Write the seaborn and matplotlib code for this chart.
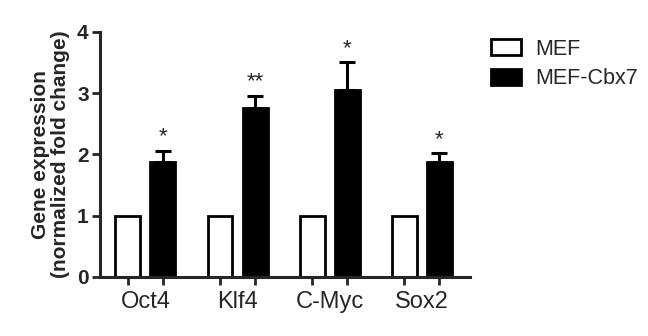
import numpy as np
import pandas as pd
import matplotlib
matplotlib.use("Agg")
import matplotlib.pyplot as plt
import seaborn as sns

genes = ["Oct4", "Klf4", "C-Myc", "Sox2"]
groups = ["MEF", "MEF-Cbx7"]
mef = [1.0, 1.0, 1.0, 1.0]
cbx7 = [1.88, 2.75, 3.05, 1.87]
cbx7_err = [0.18, 0.21, 0.46, 0.15]
stars = ["*", "**", "*", "*"]

sns.set_style("ticks")
plt.rcParams["font.family"] = ["Liberation Sans", "DejaVu Sans"]

df = pd.DataFrame({
    "Gene": genes * 2,
    "Group": [groups[0]] * len(genes) + [groups[1]] * len(genes),
    "Value": mef + cbx7,
})

fig = plt.figure(figsize=(6.48, 3.36), dpi=100)
ax = fig.add_axes([0.154, 0.176, 0.571, 0.729])

sns.barplot(data=df, x="Gene", y="Value", hue="Group", order=genes, hue_order=groups,
            palette={"MEF": "white", "MEF-Cbx7": "black"}, width=0.76, gap=0.29,
            errorbar=None, edgecolor="black", linewidth=2.0, ax=ax, legend=True)

# bar centres, in plotting order (all MEF then all MEF-Cbx7)
bars = [p for p in ax.patches if p.get_height() > 0]
xs = [p.get_x() + p.get_width() / 2 for p in bars]
black_x = xs[len(genes):]

ax.errorbar(black_x, cbx7, yerr=[np.zeros(len(cbx7)), cbx7_err], fmt="none",
            ecolor="black", elinewidth=2.2, capsize=5.5, capthick=2.2, zorder=1)
for x, y, e, s in zip(black_x, cbx7, cbx7_err, stars):
    ax.text(x, y + e + 0.05, s, ha="center", va="bottom", fontsize=16)

ax.set_ylim(0, 4)
ax.set_xlim(-0.495, 3.52)
ax.set_yticks([0, 1, 2, 3, 4])
ax.set_yticklabels(["0", "1", "2", "3", "4"], fontweight="bold", fontsize=15)
ax.set_xticks(range(len(genes)))
ax.set_xticklabels(genes, fontsize=17)
ax.set_xticks(xs, minor=True)
ax.tick_params(axis="x", which="major", length=0, pad=10)
ax.tick_params(axis="x", which="minor", length=6, width=2, direction="out")
ax.tick_params(axis="y", length=6, width=2, pad=2)
ax.set_xlabel("")
ax.set_ylabel("Gene expression\n(normalized fold change)", fontweight="bold",
              fontsize=15, linespacing=1.05, labelpad=5)
for side in ["top", "right"]:
    ax.spines[side].set_visible(False)
for side in ["left", "bottom"]:
    ax.spines[side].set_linewidth(2.2)

ax.legend(loc="upper left", bbox_to_anchor=(0.758, 0.885), bbox_transform=fig.transFigure,
          frameon=False, fontsize=15.5, handlelength=1.4, handleheight=0.8,
          handletextpad=0.65, labelspacing=0.4, borderaxespad=0, borderpad=0)

fig.savefig("out.png", dpi=100, facecolor="white")
